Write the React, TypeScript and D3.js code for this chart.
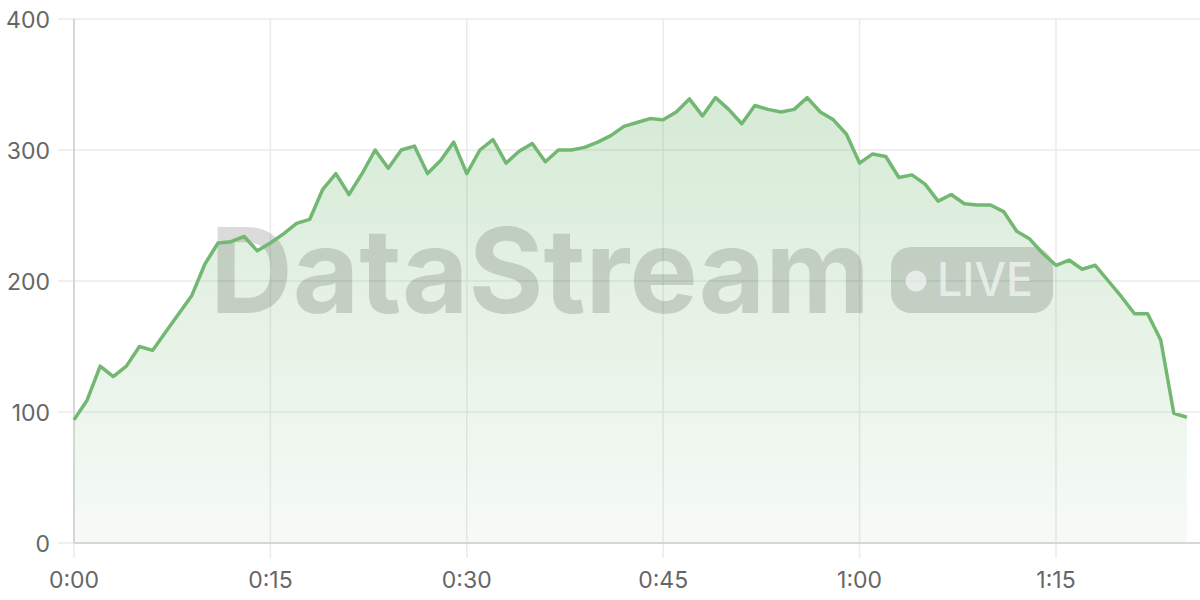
import React from "react";
import * as d3 from "d3";

const minutes: number[] = Array.from({ length: 86 }, (_, i) => i);
const values: number[] = [
  94, 109, 135, 127, 135, 150, 147, 161, 175, 189,
  213, 229, 230, 234, 223, 229, 236, 244, 247, 270,
  282, 266, 282, 300, 286, 300, 303, 282, 292, 306,
  282, 300, 308, 290, 299, 305, 291, 300, 300, 302,
  306, 311, 318, 321, 324, 323, 329, 339, 326, 340,
  331, 320, 334, 331, 329, 331, 340, 329, 323, 312,
  290, 297, 295, 279, 281, 274, 261, 266, 259, 258,
  258, 253, 238, 232, 221, 212, 216, 209, 212, 200,
  188, 175, 175, 155, 99, 96,
];
const yTicks: number[] = [0, 100, 200, 300, 400];
const xTicks: number[] = [0, 15, 30, 45, 60, 75];
const xTickLabels: string[] = ["0:00", "0:15", "0:30", "0:45", "1:00", "1:15"];

const W = 1200;
const H = 600;
const left = 74;
const right = 1200;
const top = 19;
const bottom = 543;

export default function App() {
  const x = d3.scaleLinear().domain([0, 86]).range([left, right]);
  const y = d3.scaleLinear().domain([0, 400]).range([bottom, top]);
  const pts: [number, number][] = minutes.map((m, i) => [m, values[i]]);
  const line = d3
    .line<[number, number]>()
    .x((d) => x(d[0]))
    .y((d) => y(d[1]));
  const area = d3
    .area<[number, number]>()
    .x((d) => x(d[0]))
    .y0(y(0))
    .y1((d) => y(d[1]));
  const font = "Inter, 'Noto Sans', sans-serif";
  return (
    <svg
      width={W}
      height={H}
      style={{ position: "absolute", left: 0, top: 0, background: "#fff" }}
    >
      <defs>
        <linearGradient id="ag" gradientUnits="userSpaceOnUse" x1="0" y1={top} x2="0" y2={bottom}>
          <stop offset="0%" stopColor="#6db56d" stopOpacity={0.32} />
          <stop offset="100%" stopColor="#6db56d" stopOpacity={0.06} />
        </linearGradient>
      </defs>
      {yTicks.map((t) => (
        <line key={"hy" + t} x1={58} x2={right} y1={y(t)} y2={y(t)} stroke="#ebebeb" strokeWidth={1.5} />
      ))}
      {xTicks.map((t) => (
        <line key={"vx" + t} x1={x(t)} x2={x(t)} y1={top} y2={558} stroke="#ebebeb" strokeWidth={1.5} />
      ))}
      <path d={area(pts) || ""} fill="url(#ag)" />
      <g fontFamily={font} fontWeight={700}>
        <text x={210} y={313} fontSize={118} fill="#000" fillOpacity={0.14} textLength={660} lengthAdjust="spacingAndGlyphs">
          DataStream
        </text>
        <rect x={891} y={247} width={162} height={66} rx={20} fill="#000" fillOpacity={0.14} />
        <circle cx={916} cy={281} r={10.5} fill="#fff" fillOpacity={0.6} />
        <text x={937} y={296} fontSize={46} fontWeight={500} fill="#fff" fillOpacity={0.6} textLength={96} lengthAdjust="spacingAndGlyphs">
          LIVE
        </text>
      </g>
      <line x1={left} x2={left} y1={top} y2={bottom} stroke="#cfcfcf" strokeWidth={1.5} />
      <line x1={left} x2={right} y1={bottom} y2={bottom} stroke="#cfcfcf" strokeWidth={1.5} />
      <path d={line(pts) || ""} fill="none" stroke="#72b872" strokeWidth={3.5} strokeLinejoin="round" />
      <g fontFamily={font} fontSize={23} fill="#666">
        {yTicks.map((t) => (
          <text key={"yl" + t} x={50} y={y(t) + 1} textAnchor="end" dominantBaseline="central">
            {t}
          </text>
        ))}
        {xTicks.map((t, i) => (
          <text key={"xl" + t} x={x(t)} y={588} textAnchor="middle">
            {xTickLabels[i]}
          </text>
        ))}
      </g>
    </svg>
  );
}
